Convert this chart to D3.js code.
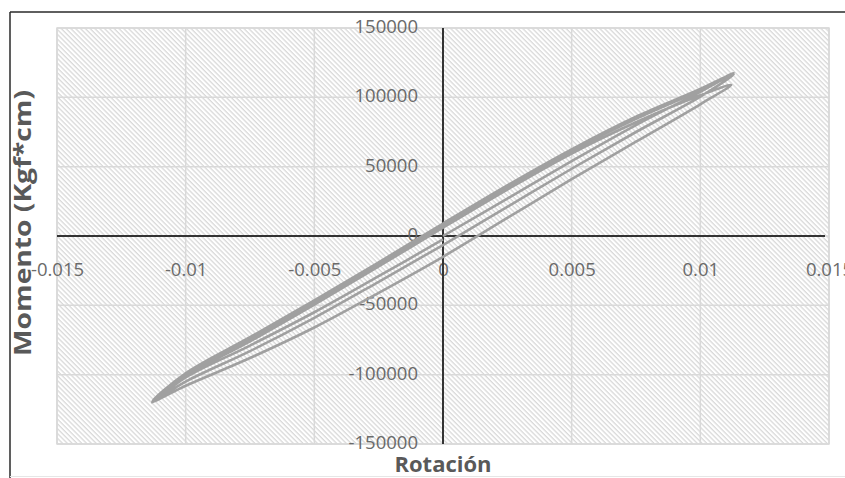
<!DOCTYPE html>
<html><head><meta charset="utf-8">
<script src="https://cdn.jsdelivr.net/npm/d3@7"></script>
<style>html,body{margin:0;padding:0;background:#fff;}svg{display:block;}</style>
</head><body>
<svg id="chart" width="845" height="478"></svg>
<script>
// ---- data ----
const xTickValues = [-0.015, -0.01, -0.005, 0, 0.005, 0.01, 0.015];
const xTickLabels = ["-0.015", "-0.01", "-0.005", "0", "0.005", "0.01", "0.015"];
const yTickValues = [150000, 100000, 50000, 0, -50000, -100000, -150000];
const yTickLabels = ["150000", "100000", "50000", "0", "-50000", "-100000", "-150000"];
const xTitle = "Rotación";
const yTitle = "Momento (Kgf*cm)";

// continuous hysteresis record: rotation (rad) and moment (Kgf*cm)
const rotacion = [
  0, 0.0025, 0.005, 0.0075, 0.01, 0.0113,
  0.01, 0.0075, 0.005, 0.0025, 0, -0.0025, -0.005, -0.0075, -0.01, -0.0113,
  -0.01, -0.0075, -0.005, -0.0025, 0, 0.0025, 0.005, 0.0075, 0.01, 0.0112,
  0.01, 0.0075, 0.005, 0.0025, 0, -0.0025, -0.005, -0.0075, -0.01, -0.0112,
  -0.01, -0.0075, -0.005, -0.0025, 0, 0.0025, 0.005, 0.0075, 0.01, 0.0113,
  0.01, 0.0075, 0.005, 0.0025, 0, -0.0025, -0.005, -0.0075, -0.01, -0.0113,
  -0.01, -0.0075, -0.005, -0.0025, 0
];
const momento = [
  0, 27000, 54000, 80000, 104000, 117500,
  106000, 86000, 62500, 36500, 9000, -19000, -46500, -73000, -99000, -119500,
  -108000, -88000, -66000, -41000, -15000, 13000, 41000, 68000, 95000, 109000,
  101500, 82000, 59500, 33500, 6000, -22000, -49500, -76000, -101000, -118500,
  -105000, -83000, -59000, -33000, -6500, 21000, 48500, 75000, 100500, 116500,
  105000, 84500, 61500, 35500, 8000, -20000, -47500, -74500, -100000, -120000,
  -102000, -79000, -55000, -29000, -2500
];

// ---- layout ----
const svg = d3.select("#chart");
const plot = {left: 57, top: 28, right: 829, bottom: 444};
const x = d3.scaleLinear().domain([-0.015, 0.015]).range([plot.left, plot.right]);
const y = d3.scaleLinear().domain([-150000, 150000]).range([plot.bottom, plot.top]);

// hatch pattern
const defs = svg.append("defs");
const pat = defs.append("pattern").attr("id", "hatch")
  .attr("patternUnits", "userSpaceOnUse").attr("width", 6).attr("height", 3.4)
  .attr("patternTransform", "rotate(45)");
pat.append("rect").attr("width", 6).attr("height", 3.4).attr("fill", "#ffffff");
pat.append("rect").attr("width", 6).attr("height", 1.3).attr("fill", "#d9d9d9");

// outer frame
svg.append("line").attr("x1", 10).attr("x2", 845).attr("y1", 12).attr("y2", 12)
  .attr("stroke", "#2a2a2a").attr("stroke-width", 1.5);
svg.append("line").attr("x1", 10).attr("x2", 10).attr("y1", 12).attr("y2", 478)
  .attr("stroke", "#2a2a2a").attr("stroke-width", 1.5);
svg.append("line").attr("x1", 10).attr("x2", 845).attr("y1", 476.5).attr("y2", 476.5)
  .attr("stroke", "#e6e6e6").attr("stroke-width", 1);

// plot area
svg.append("rect").attr("x", plot.left).attr("y", plot.top)
  .attr("width", plot.right - plot.left).attr("height", plot.bottom - plot.top)
  .attr("fill", "url(#hatch)").attr("stroke", "#dadada").attr("stroke-width", 1.5);

// gridlines
const grid = svg.append("g").attr("stroke", "#d9d9d9").attr("stroke-width", 1.5);
grid.selectAll(".gx").data(xTickValues).join("line")
  .attr("x1", d => x(d)).attr("x2", d => x(d)).attr("y1", plot.top).attr("y2", plot.bottom);
grid.selectAll(".gy").data(yTickValues).join("line")
  .attr("y1", d => y(d)).attr("y2", d => y(d)).attr("x1", plot.left).attr("x2", plot.right);

// axes (zero lines)
const fontFam = "'Open Sans', 'Noto Sans', sans-serif";
const xAxis = d3.axisBottom(x).tickValues(xTickValues)
  .tickFormat((d, i) => xTickLabels[i]).tickSize(0).tickPadding(27);
const gx = svg.append("g").attr("transform", `translate(0,${y(0)})`).call(xAxis);
gx.select(".domain").attr("stroke", "#333").attr("stroke-width", 2)
  .attr("d", `M${plot.left},0H${plot.right - 4}`);
gx.selectAll("text").attr("fill", "#6a6a6a").style("font-family", fontFam).style("font-size", "18.5px");

const yAxis = d3.axisLeft(y).tickValues(yTickValues)
  .tickFormat((d, i) => yTickLabels[i]).tickSize(0).tickPadding(25);
const gy = svg.append("g").attr("transform", `translate(${x(0)},0)`).call(yAxis);
gy.select(".domain").attr("stroke", "#333").attr("stroke-width", 2)
  .attr("d", `M0,${plot.top}V${plot.bottom}`);
gy.selectAll("text").attr("fill", "#6a6a6a").style("font-family", fontFam).style("font-size", "18.5px")
  .attr("dy", "0.25em");

// hysteresis curve
const pts = rotacion.map((r, i) => [r, momento[i]]);
const line = d3.line().x(d => x(d[0])).y(d => y(d[1])).curve(d3.curveCatmullRom.alpha(0.5));
svg.append("path").datum(pts).attr("d", line)
  .attr("fill", "none").attr("stroke", "#a0a0a0").attr("stroke-width", 2.6)
  .attr("stroke-linejoin", "round");

// titles
svg.append("text").attr("x", 443).attr("y", 472).attr("text-anchor", "middle")
  .attr("fill", "#595959").style("font-family", fontFam).style("font-weight", "bold")
  .style("font-size", "22px").text(xTitle);
svg.append("text").attr("transform", "translate(31,223) rotate(-90)").attr("text-anchor", "middle")
  .attr("fill", "#595959").style("font-family", fontFam).style("font-weight", "bold")
  .style("font-size", "24px").attr("textLength", 266).attr("lengthAdjust", "spacingAndGlyphs")
  .text(yTitle);
</script>
</body></html>
